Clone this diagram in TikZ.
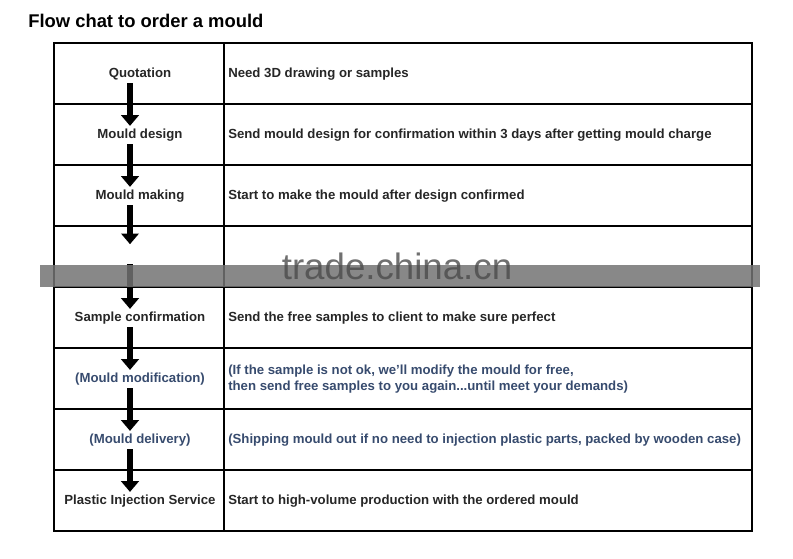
\documentclass[tikz,border=0pt]{standalone}
\usepackage{fontspec}
\setmainfont{Liberation Sans}
\usetikzlibrary{arrows.meta}
\definecolor{notecol}{RGB}{55,75,110}
\tikzstyle{step label} = [font=\fontsize{9.9}{11.5}\selectfont\bfseries, text=black!85, inner sep=0pt]
\tikzstyle{info} = [step label, anchor=west, align=left]
\tikzstyle{flow} = [draw, line width=4.5pt, -{Triangle[width=13pt,length=8pt]}]
\tikzstyle{grid} = [draw, line width=1pt]
\begin{document}
\begin{tikzpicture}[x=0.75pt, y=-0.75pt]
	\useasboundingbox (0,0) rectangle (793,559);
	\node [font=\fontsize{13.8}{15}\selectfont\bfseries, anchor=west, inner sep=0pt] (title) at (28,21) {Flow chat to order a mould};
	% table
	\path [grid] (54,43) rectangle (752,531);
	\path [grid] (224,43) -- (224,531);
	\foreach \y in {104,165,226,287,348,409,470}
		\path [grid] (54,\y) -- (752,\y);
	% left column
	\node [step label] (quote) at (140,74) {Quotation};
	\node [step label] (design) at (140,135) {Mould design};
	\node [step label] (making) at (140,196) {Mould making};
	\node [step label] (blank) at (140,257) {\phantom{X}};
	\node [step label] (sample) at (140,318) {Sample confirmation};
	\node [step label, text=notecol] (modify) at (140,379) {(Mould modification)};
	\node [step label, text=notecol] (deliver) at (140,440) {(Mould delivery)};
	\node [step label] (inject) at (140,501) {Plastic Injection Service};
	% right column
	\node [info] (quoteinfo) at (228,74) {Need 3D drawing or samples};
	\node [info] (designinfo) at (228,135) {Send mould design for confirmation within 3 days after getting mould charge};
	\node [info] (makinginfo) at (228,196) {Start to make the mould after design confirmed};
	\node [info] (sampleinfo) at (228,318) {Send the free samples to client to make sure perfect};
	\node [info, text=notecol] (modifyinfo) at (228,379) {(If the sample is not ok, we'll modify the mould for free,\\then send free samples to you again...until meet your demands)};
	\node [info, text=notecol] (deliverinfo) at (228,440) {(Shipping mould out if no need to injection plastic parts, packed by wooden case)};
	\node [info] (injectinfo) at (228,501) {Start to high-volume production with the ordered mould};
	% arrows
	\path [flow] ([xshift=-7.5pt,yshift=-2pt]quote.south) -- ([xshift=-7.5pt,yshift=2pt]design.north);
	\path [flow] ([xshift=-7.5pt,yshift=-2pt]design.south) -- ([xshift=-7.5pt,yshift=2pt]making.north);
	\path [flow] ([xshift=-7.5pt,yshift=-2pt]making.south) -- ([xshift=-7.5pt,yshift=6pt]blank.north);
	\path [flow] ([xshift=-7.5pt,yshift=-2pt]blank.south) -- ([xshift=-7.5pt,yshift=2pt]sample.north);
	\path [flow] ([xshift=-7.5pt,yshift=-2pt]sample.south) -- ([xshift=-7.5pt,yshift=2pt]modify.north);
	\path [flow] ([xshift=-7.5pt,yshift=-2pt]modify.south) -- ([xshift=-7.5pt,yshift=2pt]deliver.north);
	\path [flow] ([xshift=-7.5pt,yshift=-2pt]deliver.south) -- ([xshift=-7.5pt,yshift=2pt]inject.north);
	% watermark
	\fill [black!55, opacity=0.85] (40,265) rectangle (760,287);
	\node [font=\fontsize{27.5}{30}\selectfont, text=black!70, opacity=0.8] (mark) at (397,266) {trade.china.cn};
\end{tikzpicture}
\end{document}
